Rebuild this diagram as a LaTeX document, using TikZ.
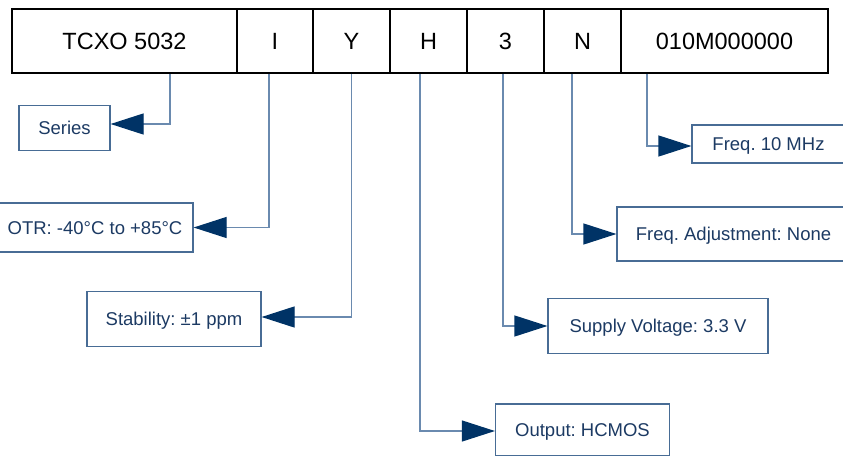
\documentclass[tikz,border=0pt]{standalone}
\usepackage{fontspec}
\setmainfont{Liberation Sans}
\usetikzlibrary{arrows.meta}
\definecolor{navy}{HTML}{003366}
\definecolor{boxblue}{HTML}{486C95}
\definecolor{lineblue}{HTML}{6A8AAF}
\definecolor{textblue}{HTML}{1C3A63}
\frenchspacing

\begin{document}
\begin{tikzpicture}[x=1pt,y=-1pt,
    cell/.style={draw=black,line width=1.6pt,minimum height=64pt,inner sep=0pt,
        text height=16.8pt,text depth=0pt,font=\fontsize{23.5}{26}\selectfont},
    info/.style={draw=boxblue,line width=1.2pt,inner sep=0pt,text=textblue,
        text height=13.2pt,text depth=0pt,font=\fontsize{18.5}{22}\selectfont},
    link/.style={draw=lineblue,line width=1.2pt,
        -{Triangle[length=33pt,width=21pt,color=navy]}}]
    \useasboundingbox (0,0) rectangle (843,455);
    \clip (0,0) rectangle (843,455);

    % Part number
    \node[cell,minimum width=225pt] (cseries) at (124.5,41) {TCXO 5032};
    \node[cell,minimum width=76pt] (crange) at (275,41) {I};
    \node[cell,minimum width=77pt] (cstab) at (351.5,41) {Y};
    \node[cell,minimum width=77pt] (cout) at (428.5,41) {H};
    \node[cell,minimum width=77pt] (cvolt) at (505.5,41) {3};
    \node[cell,minimum width=77pt] (cadj) at (582.5,41) {N};
    \node[cell,minimum width=207pt] (cfreq) at (724.5,41) {010M000000};

    % Meanings
    \node[info,minimum width=91pt,minimum height=45pt] (series) at (64.5,128) {Series};
    \node[info,minimum width=196pt,minimum height=49pt] (range) at (95,227.5) {OTR: -40°C to +85°C};
    \node[info,minimum width=174pt,minimum height=55pt] (stab) at (174,319) {Stability: ±1 ppm};
    \node[info,minimum width=174pt,minimum height=52pt] (output) at (582.5,430) {Output: HCMOS};
    \node[info,minimum width=220pt,minimum height=55pt] (volt) at (658,326) {Supply Voltage: 3.3 V};
    \node[info,minimum width=233pt,minimum height=54pt] (adj) at (733.5,234) {Freq. Adjustment: None};
    \node[info,minimum width=153pt,minimum height=38pt] (freq) at (768.5,144) {Freq. 10 MHz};

    % Connectors
    \draw[link] ([xshift=45.5pt]cseries.south) |- ([yshift=4pt]series.east);
    \draw[link] ([xshift=-6pt]crange.south) |- (range.east);
    \draw[link] (cstab.south) |- ([yshift=2pt]stab.east);
    \draw[link] ([xshift=-8.5pt]cout.south) |- ([yshift=-1pt]output.west);
    \draw[link] ([xshift=-2.5pt]cvolt.south) |- (volt.west);
    \draw[link] ([xshift=-10.5pt]cadj.south) |- (adj.west);
    \draw[link] ([xshift=-77.5pt]cfreq.south) |- ([yshift=-2pt]freq.west);
\end{tikzpicture}
\end{document}
